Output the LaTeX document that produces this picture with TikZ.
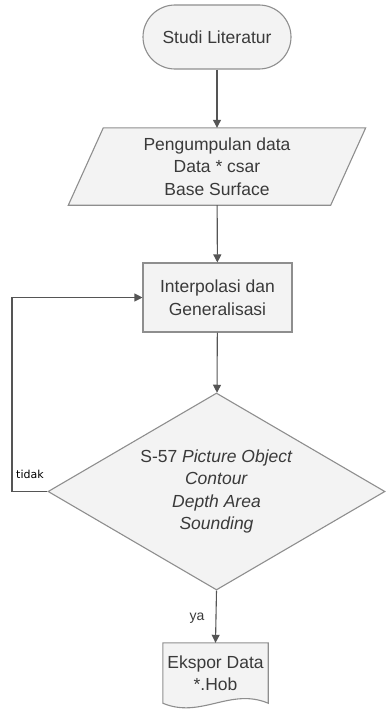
\documentclass[tikz,border=0pt]{standalone}
\usepackage{fontspec}
\setmainfont{Liberation Sans}
\newfontfamily\notefont{DejaVu Sans}
\usetikzlibrary{shapes.geometric,arrows.meta,backgrounds}
\definecolor{edgegray}{HTML}{8E8E8E}
\definecolor{boxfill}{HTML}{F3F3F3}
\definecolor{inkgray}{HTML}{3A3A3A}
\definecolor{linegray}{HTML}{555555}

\begin{document}
\begin{tikzpicture}[x=1pt,y=-1pt,
  outline/.style={draw=edgegray, fill=boxfill, line width=1.1pt},
  label/.style={font=\fontsize{17.5}{22.5}\selectfont, text=inkgray, align=center},
  flow/.style={draw=linegray, line width=1.1pt, -{Triangle[length=8pt,width=8pt]}, fill=none}]
  \useasboundingbox (0,0) rectangle (386,712);

  % start terminator
  \node[outline, label, rounded corners=32pt, minimum width=148pt, minimum height=64pt, inner sep=0pt]
    (start) at (217,37) {Studi Literatur};

  % input data (parallelogram)
  \node[label, minimum width=262pt, minimum height=77pt, inner sep=0pt]
    (data) at (217,166.5) {Pengumpulan data\\Data * csar\\Base Surface};
  \begin{scope}[on background layer]
    \draw[outline] ([xshift=17.5pt]data.north west) -- ([xshift=17.5pt]data.north east)
      -- ([xshift=-17.5pt]data.south east) -- ([xshift=-17.5pt]data.south west) -- cycle;
  \end{scope}

  % process
  \node[outline, label, minimum width=149pt, minimum height=69pt, inner sep=0pt]
    (interp) at (217.5,297.5) {Interpolasi dan\\Generalisasi};

  % decision
  \node[outline, diamond, minimum width=337pt, minimum height=197pt, inner sep=0pt]
    (check) at (216.5,491.5) {};
  \node[label] (checktext) at (check.center)
    {S-57 \textit{Picture Object}\\\textit{Contour}\\\textit{Depth Area}\\\textit{Sounding}};

  % output document
  \node[label, minimum width=105pt, minimum height=60pt, inner sep=0pt]
    (out) at (215.5,673) {Ekspor Data\\*.Hob};
  \begin{scope}[on background layer]
    \draw[outline] (out.south east) -- (out.north east) -- (out.north west) -- (out.south west)
      .. controls +(38,16) and +(-38,-16) .. (out.south east) -- cycle;
  \end{scope}

  % connectors
  \draw[flow] (start) -- (data);
  \draw[flow] (data) -- (interp);
  \draw[flow] (interp) -- (check);
  \draw[flow] (check.south) -- (out.north);
  \coordinate (loopx) at (12,0);
  \draw[flow] (check.west) -- (check.west -| loopx) |- (interp.west);

  % branch labels
  \node[font=\notefont\fontsize{11}{13}\selectfont, text=black, anchor=west, inner sep=0pt]
    (no) at (16,474) {tidak};
  \node[font=\fontsize{14}{16}\selectfont, text=inkgray, inner sep=0pt]
    (yes) at (197,618) {ya};
\end{tikzpicture}
\end{document}
